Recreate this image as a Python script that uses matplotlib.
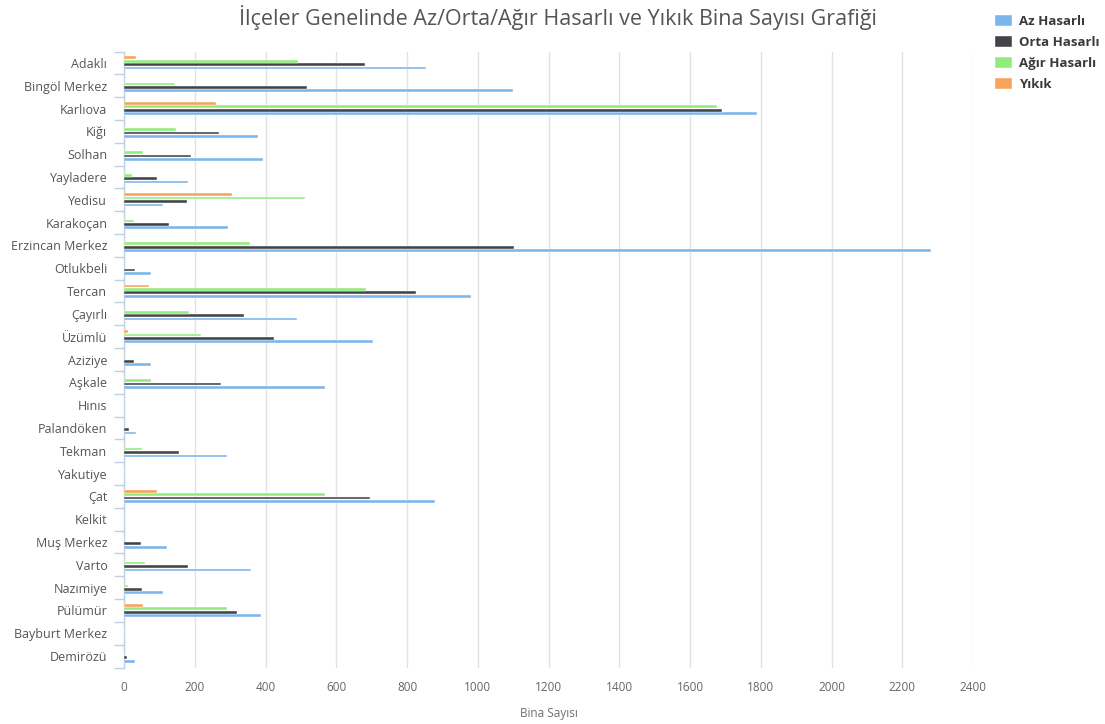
import numpy as np
import matplotlib
matplotlib.use("Agg")
import matplotlib.pyplot as plt

plt.rcParams['font.family'] = ['Open Sans', 'DejaVu Sans']

districts = [
    "Adaklı", "Bingöl Merkez", "Karlıova", "Kiğı", "Solhan", "Yayladere",
    "Yedisu", "Karakoçan", "Erzincan Merkez", "Otlukbeli", "Tercan",
    "Çayırlı", "Üzümlü", "Aziziye", "Aşkale", "Hınıs", "Palandöken",
    "Tekman", "Yakutiye", "Çat", "Kelkit", "Muş Merkez", "Varto",
    "Nazımiye", "Pülümür", "Bayburt Merkez", "Demirözü",
]
az_hasarli = [855, 1100, 1788, 379, 392, 181, 111, 293, 2280, 75, 982,
              489, 705, 75, 568, 0, 35, 292, 0, 878, 0, 121, 359, 111,
              387, 0, 32]
orta_hasarli = [680, 517, 1691, 269, 189, 92, 178, 128, 1103, 32, 825,
                339, 423, 28, 273, 0, 14, 155, 0, 694, 0, 48, 182, 51,
                319, 0, 9]
agir_hasarli = [491, 145, 1676, 148, 53, 24, 511, 27, 357, 0, 685,
                185, 218, 0, 77, 0, 0, 52, 0, 567, 0, 0, 58, 10,
                290, 0, 0]
yikik = [35, 0, 261, 0, 0, 0, 306, 0, 0, 0, 72,
         0, 12, 0, 0, 0, 0, 0, 0, 92, 0, 0, 0, 0,
         55, 0, 0]

series = [
    ("Az Hasarlı", az_hasarli, "#7cb5ec"),
    ("Orta Hasarlı", orta_hasarli, "#434348"),
    ("Ağır Hasarlı", agir_hasarli, "#90ed7d"),
    ("Yıkık", yikik, "#f7a35c"),
]

W, H = 1105, 724
fig = plt.figure(figsize=(W / 100, H / 100), dpi=100)
ax = fig.add_axes([124 / W, 1 - 667.5 / H, (973 - 124) / W, (667.5 - 51.5) / H])

pos = np.arange(len(districts))
slot = 0.15
handles = []
for i, (name, vals, color) in enumerate(series):
    # first series sits at the bottom of each group
    offset = (1.5 - i) * slot
    b = ax.barh(pos + offset, vals, height=slot * 0.8, color=color,
                edgecolor="white", linewidth=0.3, label=name, zorder=3)
    handles.append(b)

ax.set_ylim(len(districts) - 0.5, -0.5)
ax.set_xlim(0, 2400)
ax.set_xticks(np.arange(0, 2401, 200))
ax.set_yticks(pos)
ax.set_yticklabels(districts)
ax.set_yticks(np.arange(-0.5, len(districts), 1), minor=True)

ax.grid(axis="x", color="#e2e2e2", linewidth=1, zorder=0)
for s in ("top", "right", "bottom"):
    ax.spines[s].set_visible(False)
ax.spines["left"].set_color("#c0d0e0")
ax.spines["left"].set_linewidth(1)

ax.tick_params(axis="y", which="major", length=0, pad=12,
               labelsize=9, labelcolor="#555555")
ax.tick_params(axis="y", which="minor", length=7.5, width=1, color="#c0d0e0")
ax.tick_params(axis="x", length=0, pad=10, labelsize=8.5, labelcolor="#666666")

ax.set_xlabel("Bina Sayısı", fontsize=8.5, color="#6e6e6e")
ax.xaxis.set_label_coords(0.5, (667.5 - 713) / 616, transform=ax.transAxes)
ax.xaxis.label.set_va("center")

fig.text(0.505, 1 - 17 / H,
         "İlçeler Genelinde Az/Orta/Ağır Hasarlı ve Yıkık Bina Sayısı Grafiği",
         ha="center", va="center", fontsize=15.5, color="#555555")

leg = fig.legend(handles=handles, loc="upper left",
                 bbox_to_anchor=(983 / W, 1 - 3 / H), frameon=False,
                 handlelength=1.3, handleheight=0.9, handletextpad=0.5,
                 labelspacing=0.6, prop={"size": 9.5, "weight": "bold"})
for t in leg.get_texts():
    t.set_color("#3a3a3a")

fig.savefig("out.png", dpi=100, facecolor="white")
